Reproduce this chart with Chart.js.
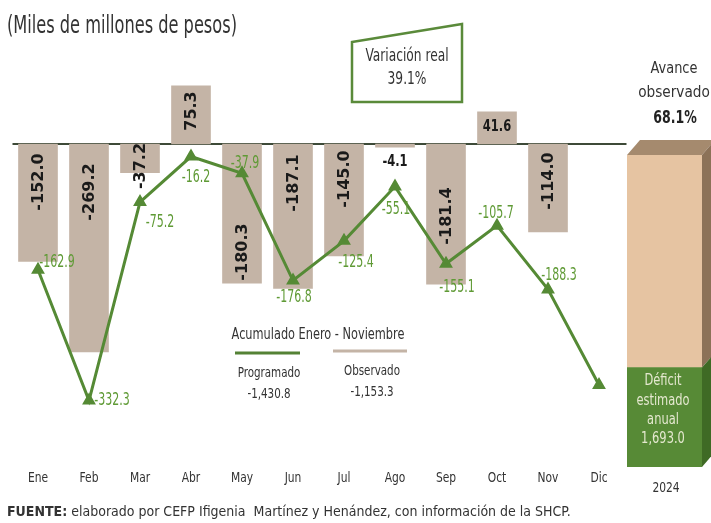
<!DOCTYPE html>
<html>
<head>
<meta charset="utf-8">
<script src="https://cdn.jsdelivr.net/npm/chart.js@4.4.1/dist/chart.umd.min.js"></script>
<style>
  html, body { margin:0; padding:0; background:#ffffff; }
  #wrap { position:relative; width:711px; height:523px; overflow:hidden; font-family:'DejaVu Sans Condensed','DejaVu Sans',sans-serif; color:#2b2b2b; }
  canvas { position:absolute; top:0; }
  .t { position:absolute; transform:translate(-50%,-50%) scaleX(var(--s,0.85)); white-space:nowrap; line-height:1; }
  .l { position:absolute; white-space:nowrap; line-height:1; transform-origin:0 50%; transform:translateY(-50%) scaleX(var(--s,0.85)); }
</style>
</head>
<body>
<div id="wrap">
  <canvas id="main" width="711" height="523" style="left:0;width:711px;height:523px"></canvas>
  <canvas id="box" width="111" height="523" style="left:600px;width:111px;height:523px"></canvas>
  <div class="l" style="left:7px;top:25px;font-size:24px;color:#333;--s:0.75;">(Miles de millones de pesos)</div>
  <svg style="position:absolute;left:0;top:0" width="711" height="523">
    <polygon points="352,42 462,24 462,102 352,102" fill="#ffffff" stroke="#5a8a3a" stroke-width="2.5"/>
    <line x1="235" y1="353" x2="300" y2="353" stroke="#548235" stroke-width="3"/>
    <line x1="333" y1="351" x2="407" y2="351" stroke="#c4b4a6" stroke-width="3"/>
  </svg>
  <div class="t" style="left:407px;top:55px;font-size:17px;color:#333;--s:0.8;">Variación real</div>
  <div class="t" style="left:407px;top:78px;font-size:17px;color:#333;--s:0.8;">39.1%</div>
  <div class="t" style="left:318px;top:334px;font-size:15px;color:#333;--s:0.84;">Acumulado Enero - Noviembre</div>
  <div class="t" style="left:269px;top:372px;font-size:14px;color:#333;--s:0.82;">Programado</div>
  <div class="t" style="left:269px;top:393px;font-size:14px;color:#333;--s:0.82;">-1,430.8</div>
  <div class="t" style="left:372px;top:370px;font-size:14px;color:#333;--s:0.82;">Observado</div>
  <div class="t" style="left:372px;top:391px;font-size:14px;color:#333;--s:0.82;">-1,153.3</div>
  <div class="t" style="left:674px;top:68px;font-size:16px;color:#333;--s:0.9;">Avance</div>
  <div class="t" style="left:674px;top:92px;font-size:16px;color:#333;--s:0.95;">observado</div>
  <div class="t" style="left:675px;top:117px;font-size:17px;font-weight:bold;color:#222;--s:0.82;">68.1%</div>
  <div class="t" style="left:663px;top:380px;font-size:15px;color:#e4e8cf;--s:0.85;">Déficit</div>
  <div class="t" style="left:663px;top:400px;font-size:15px;color:#e4e8cf;--s:0.85;">estimado</div>
  <div class="t" style="left:663px;top:419px;font-size:15px;color:#e4e8cf;--s:0.85;">anual</div>
  <div class="t" style="left:663px;top:438px;font-size:15px;color:#e4e8cf;--s:0.85;">1,693.0</div>
  <div class="t" style="left:666px;top:487px;font-size:14px;color:#333;--s:0.85;">2024</div>
  <div class="l" style="left:7px;top:511px;font-size:14px;color:#333;--s:1;"><b>FUENTE:</b> elaborado por CEFP Ifigenia&nbsp; Martínez y Henández, con información de la SHCP.</div>
</div>
<script>
// ---- Data ----
const meses = ['Ene','Feb','Mar','Abr','May','Jun','Jul','Ago','Sep','Oct','Nov','Dic'];
const observado = [-152.0, -269.2, -37.2, 75.3, -180.3, -187.1, -145.0, -4.1, -181.4, 41.6, -114.0, null];
const programado = [-162.9, -332.3, -75.2, -16.2, -37.9, -176.8, -125.4, -55.1, -155.1, -105.7, -188.3, -312.0];
const anualObservado = 1153.3;
const anualEstimado = 1693.0;

// ---- Styling / label placement ----
const FONT_N = "'DejaVu Sans Condensed','DejaVu Sans',sans-serif";
const BAR_COLOR = '#c4b4a6';
const GREEN = '#558a35';
// bar label: rotated or not, offset (px) of label centre from zero line
const barLabelPos = [
  {rot:true, dy:38}, {rot:true, dy:48}, {rot:true, dy:22}, {rot:true, dy:-33},
  {rot:true, dy:108}, {rot:true, dy:39}, {rot:true, dy:35}, {rot:false, dy:18},
  {rot:true, dy:72}, {rot:false, dy:-17}, {rot:true, dy:37}, null
];
// line label offsets from point
const lineLabelOff = [[19,-7],[23,0],[20,21],[5,21],[3,-10],[1,17],[12,22],[1,23],[11,24],[-1,-12],[11,-14],null];

const fmt = v => (v < 0 ? '-' : '') + Math.abs(v).toFixed(1);
function txt(ctx, s, x, y, sx) { ctx.save(); ctx.translate(x, y); ctx.scale(sx, 1); ctx.fillText(s, 0, 0); ctx.restore(); }

const mainPlugin = {
  id: 'mainDecor',
  beforeDatasetsDraw(chart) {
    const ctx = chart.ctx, y = chart.scales.y, a = chart.chartArea;
    const z = y.getPixelForValue(0);
    ctx.save();
    ctx.strokeStyle = '#3d4a38';
    ctx.lineWidth = 2;
    ctx.beginPath(); ctx.moveTo(a.left, z); ctx.lineTo(a.right + 2, z); ctx.stroke();
    ctx.restore();
  },
  afterDatasetsDraw(chart) {
    const ctx = chart.ctx, y = chart.scales.y, x = chart.scales.x;
    const z = y.getPixelForValue(0);
    const bm = chart.getDatasetMeta(1), lm = chart.getDatasetMeta(0);
    ctx.save();
    ctx.textAlign = 'center'; ctx.textBaseline = 'middle';
    observado.forEach((v, i) => {
      if (v == null) return;
      const p = barLabelPos[i]; const el = bm.data[i];
      ctx.fillStyle = '#1a1a1a';
      if (p.rot) {
        ctx.save();
        ctx.translate(el.x + 1, z + p.dy);
        ctx.rotate(-Math.PI / 2);
        ctx.font = "bold 16px 'DejaVu Sans',sans-serif";
        ctx.fillText(fmt(v), 0, 0);
        ctx.restore();
      } else {
        ctx.font = "bold 16px " + FONT_N;
        txt(ctx, fmt(v), el.x, z + p.dy, 0.8);
      }
    });
    ctx.fillStyle = '#5f9a35';
    ctx.font = "17px " + FONT_N;
    programado.forEach((v, i) => {
      const o = lineLabelOff[i]; if (!o) return;
      const pt = lm.data[i];
      txt(ctx, fmt(v), pt.x + o[0], pt.y + o[1], 0.72);
    });
    // month labels
    ctx.fillStyle = '#333';
    ctx.font = "14px " + FONT_N;
    meses.forEach((m, i) => txt(ctx, m, x.getPixelForValue(i), 478, 0.85));
    ctx.restore();
  }
};

new Chart(document.getElementById('main'), {
  data: {
    labels: meses,
    datasets: [
      { type:'line', label:'Programado', data: programado, borderColor: GREEN, backgroundColor: GREEN,
        borderWidth: 3, pointStyle:'triangle', pointRadius: 5, pointBackgroundColor: GREEN, pointBorderColor: GREEN,
        tension: 0, order: 0 },
      { type:'bar', label:'Observado', data: observado, backgroundColor: BAR_COLOR, barThickness: 39, order: 1 }
    ]
  },
  options: {
    responsive:false, animation:false, devicePixelRatio:1,
    layout: { padding: { left: 12.5, right: 86.5, top: 20, bottom: 57 } },
    plugins: { legend:{display:false}, tooltip:{enabled:false} },
    scales: {
      x: { display:false },
      y: { display:false, min:-417, max:160.6 }
    }
  },
  plugins: [mainPlugin]
});

const boxPlugin = {
  id:'box3d',
  afterDatasetsDraw(chart) {
    const ctx = chart.ctx;
    const g = chart.getDatasetMeta(0).data[0], t = chart.getDatasetMeta(1).data[0];
    const L = t.x - t.width/2, R = t.x + t.width/2, top = t.y, mid = t.base, bot = g.base;
    const dx = 13, dy = 15;
    ctx.save();
    ctx.fillStyle = '#a58a6e';
    ctx.beginPath(); ctx.moveTo(L, top); ctx.lineTo(L+dx, top-dy); ctx.lineTo(R+dx, top-dy); ctx.lineTo(R, top); ctx.closePath(); ctx.fill();
    ctx.fillStyle = '#8c7258';
    ctx.beginPath(); ctx.moveTo(R, top); ctx.lineTo(R+dx, top-dy); ctx.lineTo(R+dx, mid-dy); ctx.lineTo(R, mid); ctx.closePath(); ctx.fill();
    ctx.fillStyle = '#3f6a25';
    ctx.beginPath(); ctx.moveTo(R, mid); ctx.lineTo(R+dx, mid-dy); ctx.lineTo(R+dx, bot-dy); ctx.lineTo(R, bot); ctx.closePath(); ctx.fill();
    ctx.restore();
  }
};

new Chart(document.getElementById('box'), {
  type:'bar',
  data: {
    labels:['2024'],
    datasets:[
      { label:'Déficit estimado anual', data:[anualEstimado - anualObservado], backgroundColor:'#578a36', barPercentage:1, categoryPercentage:1 },
      { label:'Avance observado', data:[anualObservado], backgroundColor:'#e6c4a2', barPercentage:1, categoryPercentage:1 }
    ]
  },
  options: {
    responsive:false, animation:false, devicePixelRatio:1,
    layout:{ padding:{ left:27, right:9, top:155, bottom:56 } },
    plugins:{ legend:{display:false}, tooltip:{enabled:false} },
    scales:{
      x:{ display:false, stacked:true },
      y:{ display:false, stacked:true, min:0, max:anualEstimado }
    }
  },
  plugins:[boxPlugin]
});
</script>
</body>
</html>
